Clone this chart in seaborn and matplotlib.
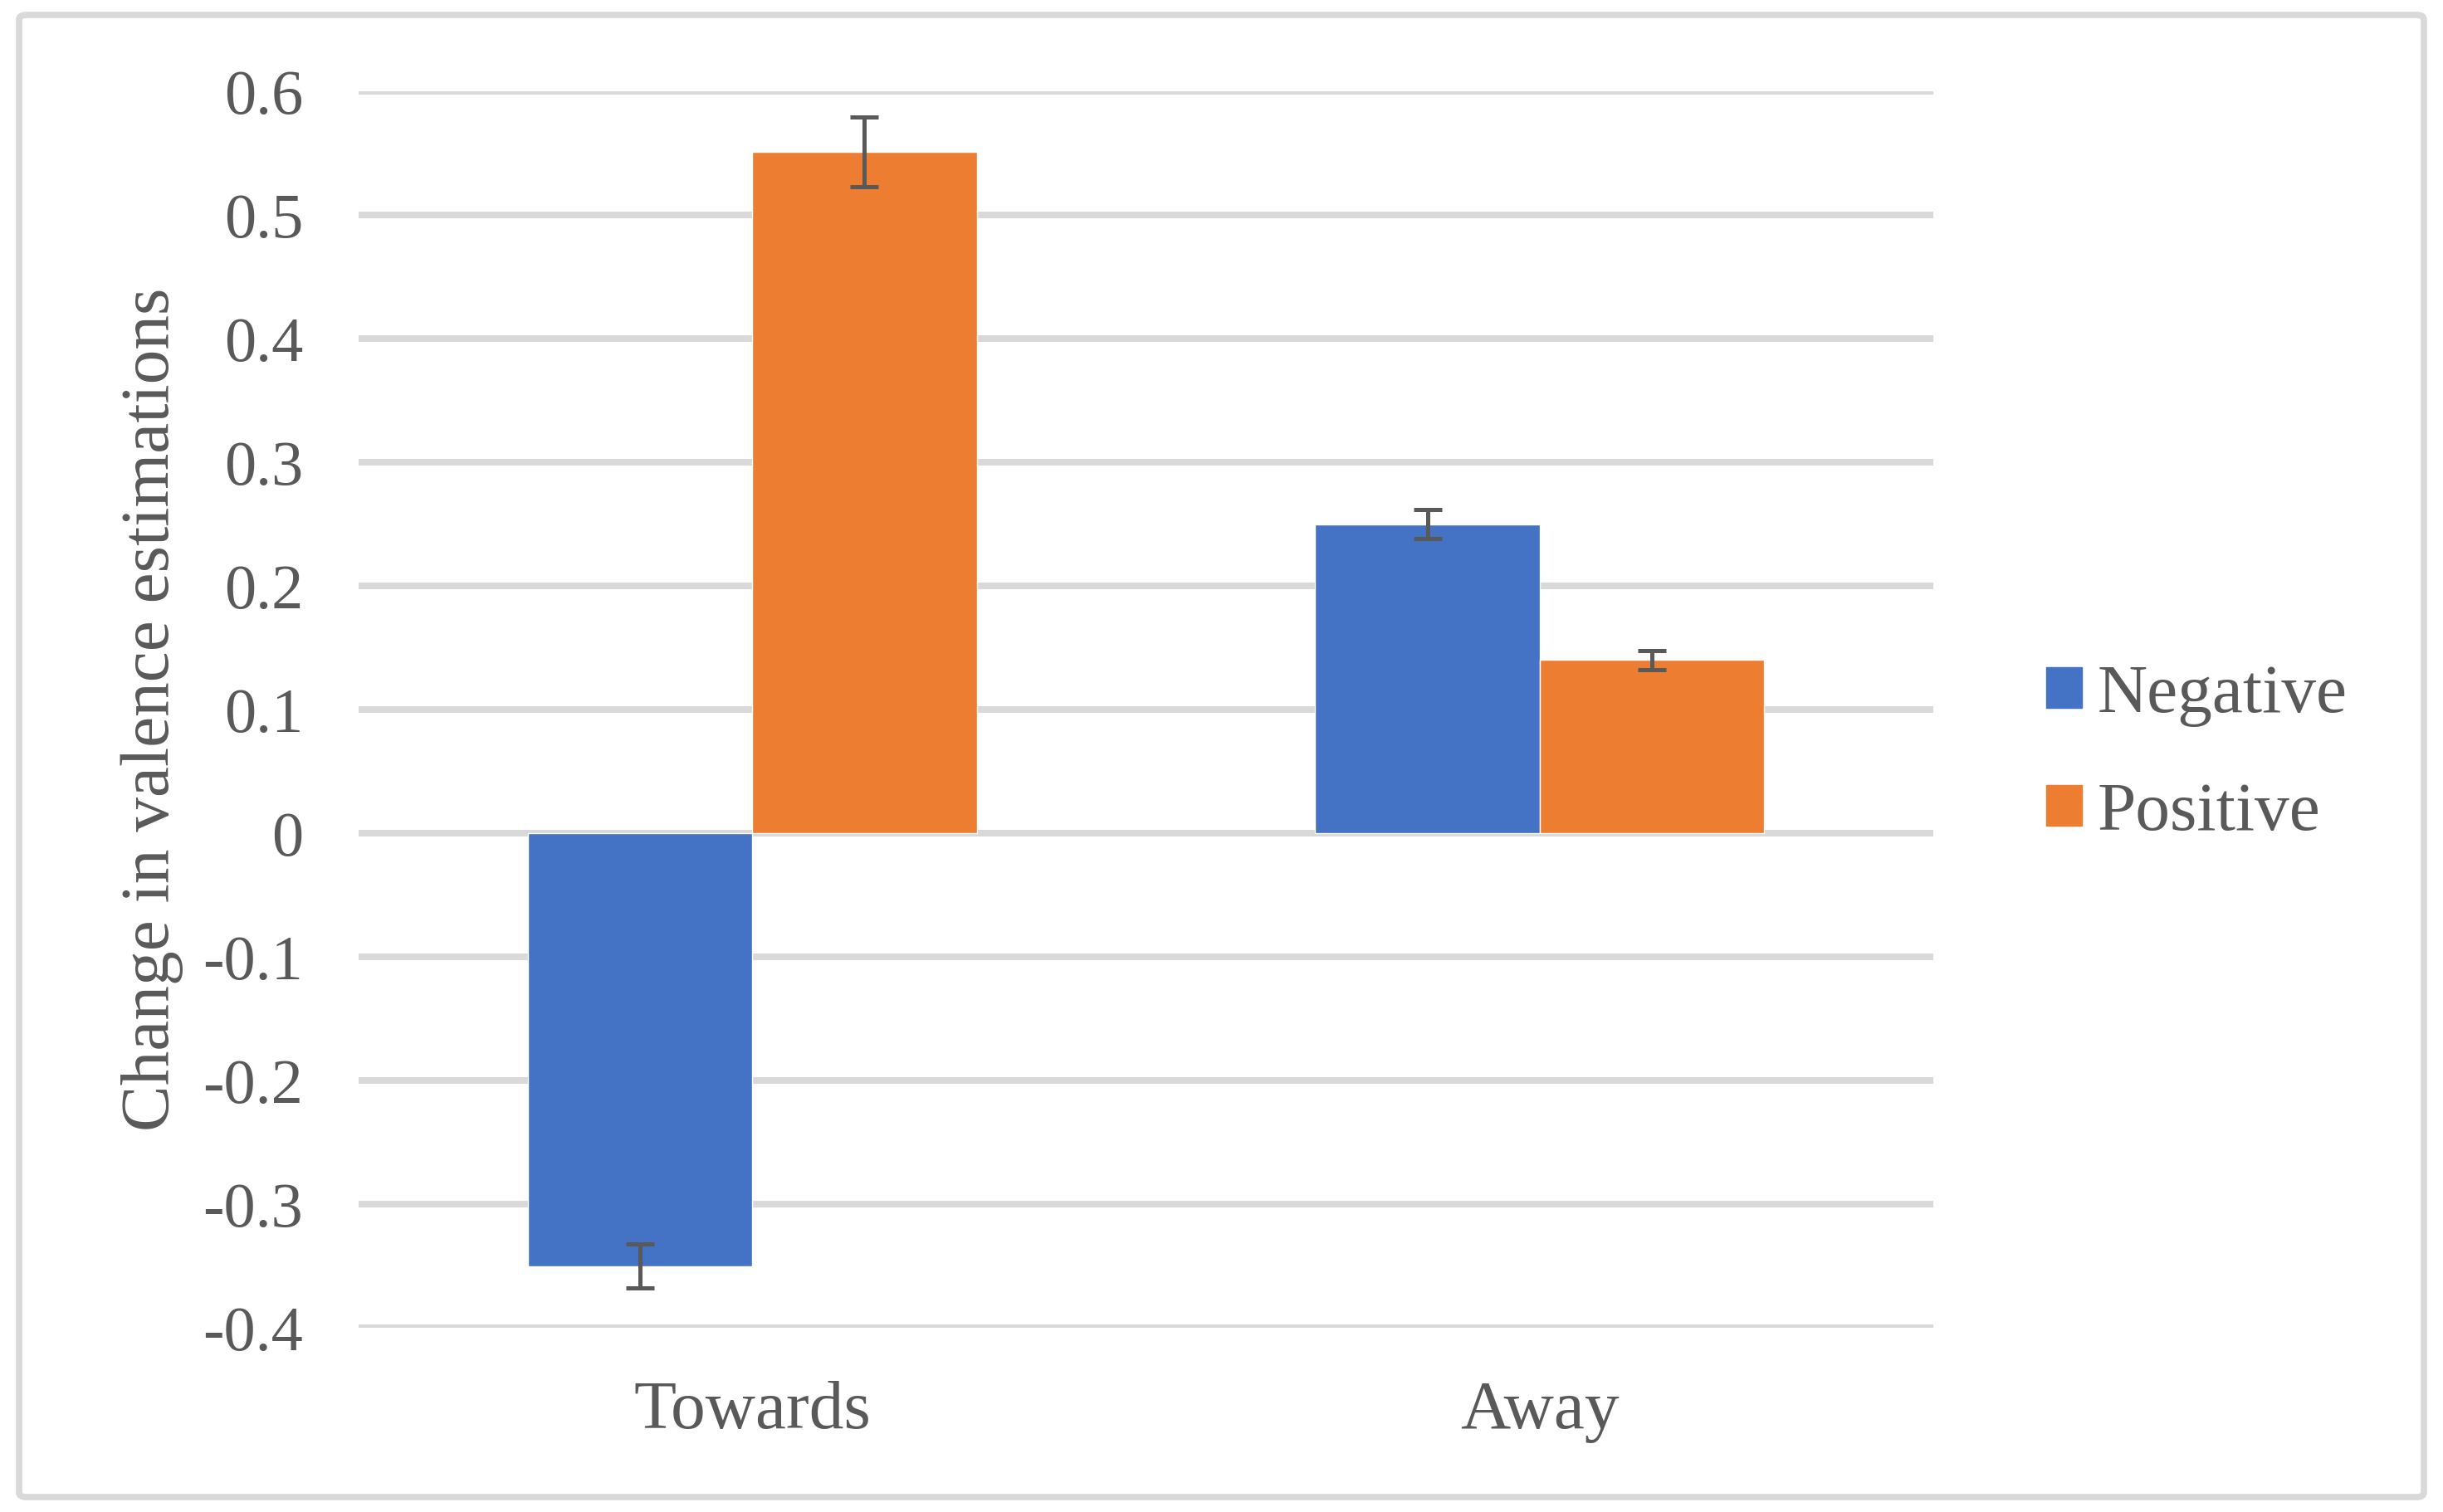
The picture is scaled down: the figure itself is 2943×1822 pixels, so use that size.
import pandas as pd
import numpy as np
import matplotlib
matplotlib.use('Agg')
import matplotlib.pyplot as plt
import seaborn as sns
from matplotlib.patches import FancyBboxPatch

# ====== DATA

directions = ['Towards', 'Away']
valences = ['Negative', 'Positive']
negative_means = [-0.35, 0.25]
positive_means = [0.551, 0.140]
negative_err = [0.018, 0.012]
positive_err = [0.028, 0.0075]
y_ticks = [-0.4, -0.3, -0.2, -0.1, 0, 0.1, 0.2, 0.3, 0.4, 0.5, 0.6]

colors = {'Negative': '#4472C4', 'Positive': '#ED7D31'}
TEXT = '#595959'
GRID = '#D9D9D9'

df = pd.DataFrame({
    'direction': directions * 2,
    'valence': [valences[0]] * 2 + [valences[1]] * 2,
    'value': negative_means + positive_means,
    'err': negative_err + positive_err,
})

sns.set_style('white')
plt.rcParams['font.family'] = ['Liberation Serif', 'DejaVu Serif']
plt.rcParams['axes.unicode_minus'] = False

fig = plt.figure(figsize=(29.43, 18.22), dpi=100)
ax = fig.add_axes([0.1468, 0.1218, 0.6446, 0.8178])

sns.barplot(data=df, x='direction', y='value', hue='valence', order=directions,
            hue_order=valences, palette=colors, width=0.57, errorbar=None,
            saturation=1, ax=ax, zorder=3)

# error bars on top of each bar
for cont, valence in zip(ax.containers, valences):
    sub = df[df['valence'] == valence].set_index('direction').loc[directions]
    xs = [b.get_x() + b.get_width() / 2 for b in cont]
    ax.errorbar(xs, sub['value'], yerr=sub['err'], fmt='none', ecolor=TEXT,
                elinewidth=3.6, capsize=12, capthick=3.6, zorder=4)

ax.set_ylim(-0.4, 0.6)
ax.set_xlim(-0.5, 1.5)
ax.set_yticks(y_ticks)
ax.set_yticklabels(['%g' % t for t in y_ticks])
ax.grid(axis='y', color=GRID, linewidth=5.8, zorder=0)
ax.set_axisbelow(True)
for s in ax.spines.values():
    s.set_visible(False)
ax.tick_params(axis='y', length=0, labelsize=55, colors=TEXT, pad=48)
ax.tick_params(axis='x', length=0, labelsize=60, colors=TEXT, pad=46)
ax.set_xlabel('')
ax.set_ylabel('Change in valence estimations', fontsize=60, color=TEXT, labelpad=17)

ax.get_legend().remove()
handles = [plt.Rectangle((0, 0), 1, 1, color=colors[v]) for v in valences]
fig.legend(handles, valences, loc='center left', bbox_to_anchor=(0.812, 0.501),
           frameon=False, fontsize=60, labelcolor=TEXT, handlelength=0.52,
           handleheight=0.52, handletextpad=0.22, labelspacing=0.8)

# outer light-grey border
border = FancyBboxPatch((23 / 2943, 18 / 1822), 1 - 46 / 2943, 1 - 36 / 1822,
                        boxstyle='round,pad=0,rounding_size=0.003',
                        transform=fig.transFigure, fill=False,
                        edgecolor=GRID, linewidth=5.5)
fig.patches.append(border)

fig.savefig('out.png', dpi=100)
plt.close()
